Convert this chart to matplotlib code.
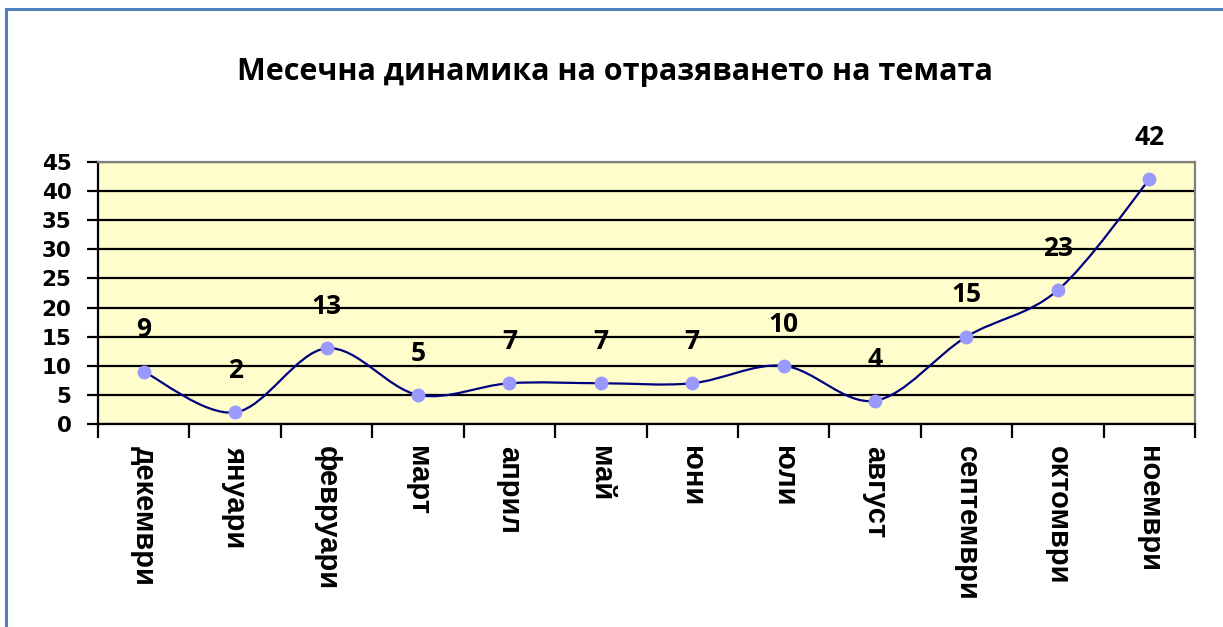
import numpy as np
import matplotlib
matplotlib.use("Agg")
import matplotlib.pyplot as plt
from matplotlib.path import Path
from matplotlib.patches import PathPatch, Rectangle
from matplotlib.font_manager import FontProperties

months = ["декември", "януари", "февруари", "март", "април", "май",
          "юни", "юли", "август", "септември", "октомври", "ноември"]
counts = [9, 2, 13, 5, 7, 7, 7, 10, 4, 15, 23, 42]
title = "Месечна динамика на отразяването на темата"

val_fp = FontProperties(family="Open Sans", weight="bold", size=19)
ytick_fp = FontProperties(family="DejaVu Sans", weight="bold", size=15.5)
lab_fp = FontProperties(family="Liberation Sans", weight="bold", size=21)
title_fp = FontProperties(family="Open Sans", weight="bold", size=22)

fig = plt.figure(figsize=(12.23, 6.27), dpi=100)
fig.patch.set_facecolor("white")

# outer chart frame (only left/top edges fall inside the picture)
fig.patches.append(Rectangle((6 / 1223, -0.05), 1.1, 1 - 9 / 627 + 0.05,
                             transform=fig.transFigure, fill=False,
                             edgecolor="#4F81BD", linewidth=2.2))

ax = fig.add_axes([98 / 1223, 1 - 424 / 627, (1195 - 98) / 1223, (424 - 162) / 627])
ax.set_facecolor("#FFFDCC")

x = np.arange(len(counts))
y = np.array(counts, dtype=float)

# smoothed line (Excel-style bezier through the points)
verts = [(x[0], y[0])]
codes = [Path.MOVETO]
n = len(x)
for i in range(n - 1):
    p0 = np.array([x[max(i - 1, 0)], y[max(i - 1, 0)]])
    p1 = np.array([x[i], y[i]])
    p2 = np.array([x[i + 1], y[i + 1]])
    p3 = np.array([x[min(i + 2, n - 1)], y[min(i + 2, n - 1)]])
    c1 = p1 + (p2 - p0) / 6
    c2 = p2 - (p3 - p1) / 6
    verts += [tuple(c1), tuple(c2), tuple(p2)]
    codes += [Path.CURVE4] * 3
ax.add_patch(PathPatch(Path(verts, codes), facecolor="none",
                       edgecolor="#000080", linewidth=1.6, zorder=3))
ax.plot(x, y, linestyle="none", marker="o", markersize=9,
        color="#9999FF", zorder=4)

for xi, yi in zip(x, counts):
    ax.annotate(str(yi), (xi, yi), xytext=(0, 30), textcoords="offset points",
                ha="center", va="center", fontproperties=val_fp,
                annotation_clip=False)

ax.set_xlim(-0.5, len(counts) - 0.5)
ax.set_ylim(0, 45)
ax.set_yticks(range(0, 46, 5))
ax.yaxis.grid(True, color="black", linewidth=1.6)
ax.set_axisbelow(True)

ax.set_xticks(np.arange(-0.5, len(counts), 1))
ax.set_xticklabels([])
ax.set_xticks(x, minor=True)
ax.set_xticklabels(months, minor=True)
ax.tick_params(axis="x", which="major", direction="out", length=10,
               width=1.6, color="black")
ax.tick_params(axis="x", which="minor", length=0, pad=16)
ax.tick_params(axis="y", direction="out", length=8, width=1.6, pad=11)
for lbl in ax.get_yticklabels():
    lbl.set_fontproperties(ytick_fp)
for lbl in ax.get_xticklabels(minor=True):
    lbl.set_fontproperties(lab_fp)
    lbl.set_rotation(270)
    lbl.set_verticalalignment("top")
    lbl.set_horizontalalignment("center")

ax.spines["left"].set_linewidth(1.6)
ax.spines["bottom"].set_linewidth(1.6)
ax.spines["top"].set_color("#808080")
ax.spines["right"].set_color("#808080")
ax.spines["top"].set_linewidth(1.6)
ax.spines["right"].set_linewidth(1.6)

fig.text(615 / 1223, 1 - 72 / 627, title, ha="center", va="center",
         fontproperties=title_fp)

fig.savefig("out.png", dpi=100)
